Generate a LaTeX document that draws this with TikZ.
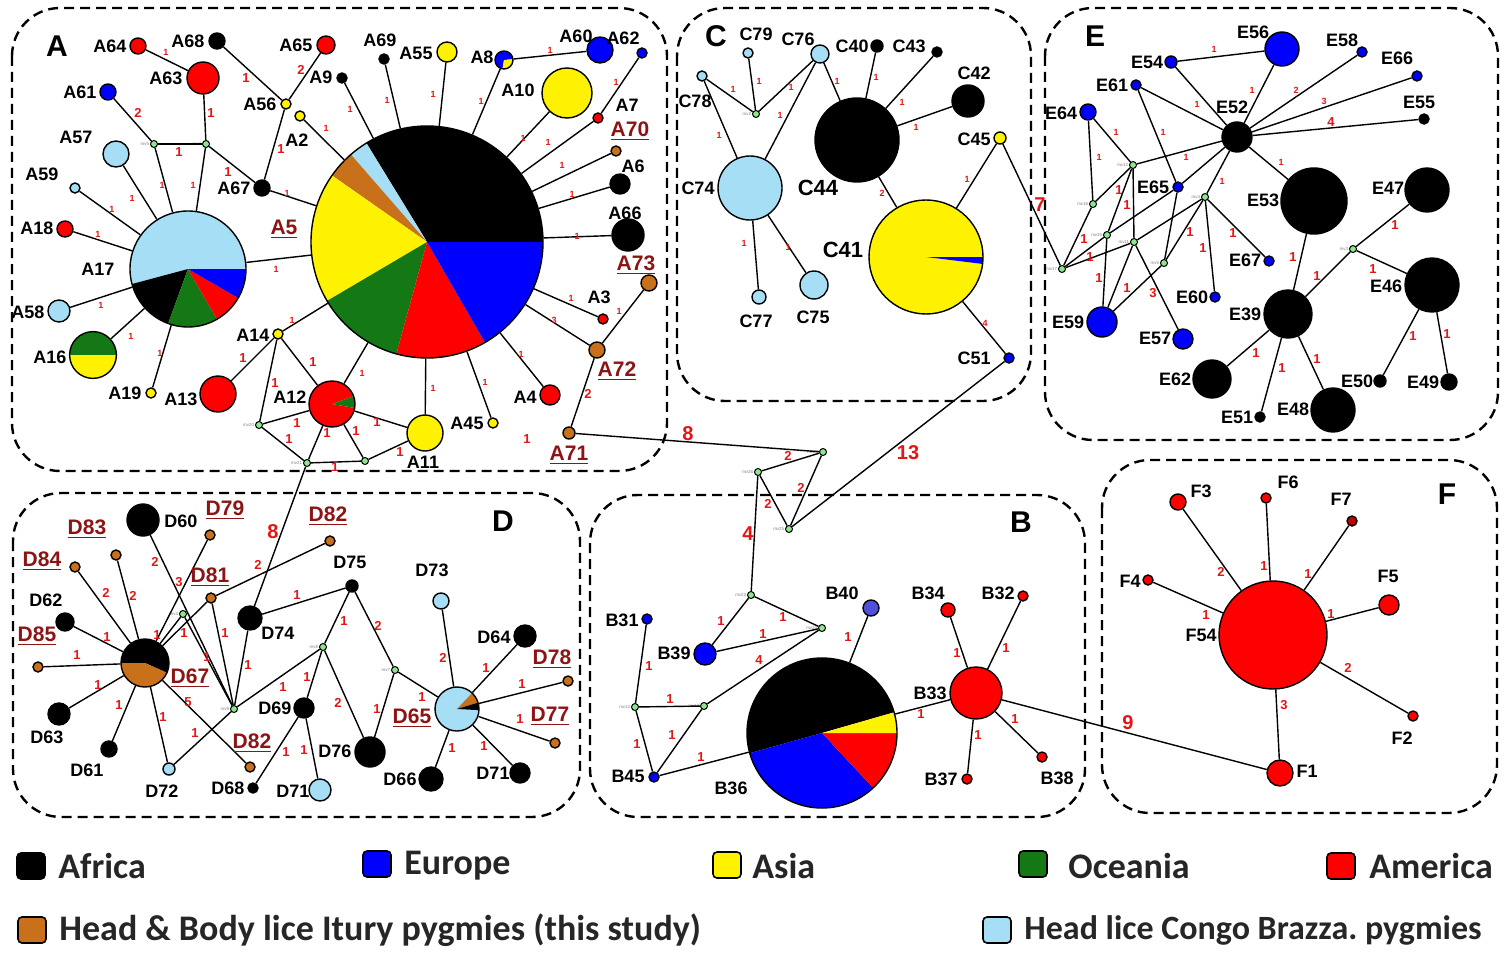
\documentclass[tikz,border=0pt]{standalone}
\usepackage{fontspec}
\setmainfont{Liberation Sans}
\newfontfamily\legfont{Carlito}
\usetikzlibrary{calc}
\definecolor{hgreen}{RGB}{20,120,20}
\definecolor{horange}{RGB}{200,112,26}
\definecolor{hlight}{RGB}{165,222,245}
\definecolor{hslate}{RGB}{80,80,220}
\definecolor{hdark}{RGB}{190,0,0}
\definecolor{mvgreen}{RGB}{140,230,140}
\definecolor{numred}{RGB}{230,20,20}
\definecolor{ulred}{RGB}{140,20,20}
\tikzstyle{hap} = [draw, circle, inner sep=0pt, line width=0.7pt]
\tikzstyle{mv} = [draw, circle, fill=mvgreen, inner sep=0pt, minimum size=3.5pt, line width=0.5pt]
\tikzstyle{mvlab} = [inner sep=0.3pt, text=gray, font=\fontsize{2.2}{2.2}\selectfont]
\tikzstyle{lab} = [inner sep=0pt, font=\fontsize{9}{9}\selectfont\bfseries]
\tikzstyle{biglab} = [inner sep=0pt, font=\fontsize{11}{11}\selectfont\bfseries]
\tikzstyle{ulab} = [inner sep=0pt, text=ulred, font=\fontsize{10.5}{10.5}\selectfont\bfseries]
\tikzstyle{plab} = [inner sep=0pt, font=\fontsize{15}{15}\selectfont\bfseries]
\tikzstyle{num} = [inner sep=0pt, text=numred, font=\fontsize{4.5}{4.5}\selectfont\bfseries]
\tikzstyle{numm} = [inner sep=0pt, text=numred, font=\fontsize{6.5}{6.5}\selectfont\bfseries]
\tikzstyle{numb} = [inner sep=0pt, text=numred, font=\fontsize{10}{10}\selectfont\bfseries]
\tikzstyle{panel} = [draw, line width=1.2pt, dash pattern=on 5pt off 3pt, rounded corners=24pt]
\tikzstyle{link} = [draw, line width=0.7pt]
\tikzstyle{key} = [draw, line width=0.8pt, rounded corners=2pt, minimum width=14pt, minimum height=13pt, inner sep=0pt]
\tikzstyle{legtxt} = [anchor=west, inner sep=0pt, text=black!85, font=\legfont\fontsize{18}{18}\selectfont\bfseries]
% pie slice: centre, radius, start, end, colour
\newcommand{\slice}[5]{\fill[#5] (#1) -- ++(#3:#2) arc[start angle=#3, end angle=#4, radius=#2] -- cycle;}

\begin{document}
\begin{tikzpicture}[x=0.5pt, y=-0.5pt]
	\useasboundingbox (0,0) rectangle (1508,952);
	
	% panels
	\draw[panel] (12,8) rectangle (667,471);
	\draw[panel] (677,8) rectangle (1031,401);
	\draw[panel] (1045,8) rectangle (1498,440);
	\draw[panel] (13,493) rectangle (580,817);
	\draw[panel] (590,495) rectangle (1085,817);
	\draw[panel] (1102,460) rectangle (1497,813);
	\node[plab] (pA) at (57,46) {A};
	\node[plab] (pC) at (716,36) {C};
	\node[plab] (pE) at (1095,36) {E};
	\node[plab] (pD) at (503,521) {D};
	\node[plab] (pB) at (1021,522) {B};
	\node[plab] (pF) at (1447,494) {F};
	
	% ---------------- A
	\coordinate (cA5) at (427,242);
	\slice{cA5}{58pt}{0}{121.5}{black}
	\slice{cA5}{58pt}{121.5}{131}{hlight}
	\slice{cA5}{58pt}{131}{145}{horange}
	\slice{cA5}{58pt}{145}{210.5}{yellow}
	\slice{cA5}{58pt}{210.5}{254.7}{hgreen}
	\slice{cA5}{58pt}{254.7}{300}{red}
	\slice{cA5}{58pt}{300}{360}{blue}
	\node[hap, minimum size=116pt] (A5) at (cA5) {};
	\coordinate (cA17) at (188,269);
	\slice{cA17}{29pt}{0}{195}{hlight}
	\slice{cA17}{29pt}{195}{250}{black}
	\slice{cA17}{29pt}{250}{300}{hgreen}
	\slice{cA17}{29pt}{300}{330}{red}
	\slice{cA17}{29pt}{330}{360}{blue}
	\node[hap, minimum size=58pt] (A17) at (cA17) {};
	\coordinate (cA16) at (93,355);
	\slice{cA16}{11.7pt}{0}{180}{hgreen}
	\slice{cA16}{11.7pt}{180}{360}{yellow}
	\node[hap, minimum size=23.4pt] (A16) at (cA16) {};
	\coordinate (cA12) at (332,404);
	\slice{cA12}{11.5pt}{20}{350}{red}
	\slice{cA12}{11.5pt}{-10}{20}{hgreen}
	\node[hap, minimum size=23pt] (A12) at (cA12) {};
	\coordinate (cA8) at (504,60);
	\slice{cA8}{4.5pt}{5}{260}{blue}
	\slice{cA8}{4.5pt}{-100}{5}{yellow}
	\node[hap, minimum size=9pt] (A8) at (cA8) {};
	
	\node[hap, fill=red, minimum size=8pt] (A64) at (138,46) {};
	\node[hap, fill=black, minimum size=8pt] (A68) at (217,41) {};
	\node[hap, fill=red, minimum size=9pt] (A65) at (326,45) {};
	\node[hap, fill=red, minimum size=16pt] (A63) at (203,78) {};
	\node[hap, fill=blue, minimum size=8pt] (A61) at (108,92) {};
	\node[hap, fill=yellow, minimum size=5pt] (A56) at (286,104) {};
	\node[hap, fill=yellow, minimum size=5pt] (A2) at (300,116) {};
	\node[mv, label={[mvlab]left:mv5}] (mvA1) at (154,144) {};
	\node[mv, label={[mvlab]left:mv4}] (mvA2) at (206,144) {};
	\node[hap, fill=hlight, minimum size=13pt] (A57) at (116,154) {};
	\node[hap, fill=hlight, minimum size=5pt] (A59) at (75,188) {};
	\node[hap, fill=black, minimum size=8pt] (A67) at (262,188) {};
	\node[hap, fill=red, minimum size=8pt] (A18) at (65,229) {};
	\node[hap, fill=hlight, minimum size=11pt] (A58) at (59,311) {};
	\node[hap, fill=yellow, minimum size=5pt] (A19) at (151,393) {};
	\node[hap, fill=red, minimum size=18pt] (A13) at (218,394) {};
	\node[hap, fill=yellow, minimum size=5pt] (A14) at (278,334) {};
	\node[mv, label={[mvlab]left:mv20}] (mv20) at (259,425) {};
	\node[mv, label={[mvlab]left:mv21}] (mv21) at (307,463) {};
	\node[mv] (mvA3) at (365,461) {};
	\node[hap, fill=black, minimum size=5pt] (A69) at (384,59) {};
	\node[hap, fill=black, minimum size=5pt] (A9) at (342,78) {};
	\node[hap, fill=yellow, minimum size=10pt] (A55) at (447,52) {};
	\node[hap, fill=blue, minimum size=13pt] (A60) at (600,50) {};
	\node[hap, fill=blue, minimum size=5pt] (A62) at (642,53) {};
	\node[hap, fill=yellow, minimum size=25pt] (A10) at (567,93) {};
	\node[hap, fill=red, minimum size=5pt] (A7) at (598,118) {};
	\node[hap, fill=horange, minimum size=5pt] (A70) at (616,151) {};
	\node[hap, fill=black, minimum size=10pt] (A6) at (620,184) {};
	\node[hap, fill=black, minimum size=16pt] (A66) at (628,235) {};
	\node[hap, fill=horange, minimum size=8pt] (A73) at (649,283) {};
	\node[hap, fill=horange, minimum size=8pt] (A72) at (597,350) {};
	\node[hap, fill=horange, minimum size=6pt] (A71) at (569,433) {};
	\node[hap, fill=red, minimum size=5pt] (A3) at (603,319) {};
	\node[hap, fill=red, minimum size=10pt] (A4) at (550,395) {};
	\node[hap, fill=yellow, minimum size=5pt] (A45) at (493,423) {};
	\node[hap, fill=yellow, minimum size=18pt] (A11) at (425,433) {};
	
	\draw[link] (A63) -- (A64);
	\draw[link] (A56) -- (A68);
	\draw[link] (A56) -- (A65);
	\draw[link] (A56) -- (A67);
	\draw[link] (mvA2) -- (A67);
	\draw[link] (mvA2) -- (A63);
	\draw[link] (mvA1) -- (mvA2);
	\draw[link] (mvA1) -- (A61);
	\draw[link] (mvA1) -- (A17);
	\draw[link] (mvA2) -- (A17);
	\foreach \n in {A57,A59,A18,A58,A16,A19,A5}
		\draw[link] (A17) -- (\n);
	\foreach \n in {A67,A2,A9,A69,A55,A8,A10,A7,A70,A6,A66,A3,A72,A4,A45,A11,A12,A14}
		\draw[link] (A5) -- (\n);
	\draw[link] (A8) -- (A60);
	\draw[link] (A7) -- (A62);
	\draw[link] (A72) -- (A73);
	\draw[link] (A72) -- (A71);
	\draw[link] (A14) -- (A13);
	\draw[link] (A14) -- (mv20);
	\draw[link] (A14) -- (A12);
	\draw[link] (mv20) -- (A12);
	\draw[link] (mv20) -- (mv21);
	\draw[link] (A12) -- (mv21);
	\draw[link] (A12) -- (A11);
	\draw[link] (A12) -- (mvA3);
	\draw[link] (mv21) -- (mvA3);
	\draw[link] (mvA3) -- (A11);
	
	\node[lab] (tA64) at (110,46) {A64};
	\node[lab] (tA68) at (188,41) {A68};
	\node[lab] (tA65) at (296,45) {A65};
	\node[lab] (tA63) at (166,78) {A63};
	\node[lab] (tA61) at (80,92) {A61};
	\node[lab] (tA56) at (260,104) {A56};
	\node[lab] (tA9) at (321,77) {A9};
	\node[lab] (tA2) at (297,140) {A2};
	\node[lab] (tA57) at (76,137) {A57};
	\node[lab] (tA59) at (42,174) {A59};
	\node[lab] (tA67) at (234,188) {A67};
	\node[lab] (tA18) at (37,228) {A18};
	\node[ulab] (tA5) at (284,229) {\underline{A5}};
	\node[lab] (tA17) at (98,269) {A17};
	\node[lab] (tA58) at (28,312) {A58};
	\node[lab] (tA16) at (50,357) {A16};
	\node[lab] (tA19) at (125,393) {A19};
	\node[lab] (tA13) at (181,399) {A13};
	\node[lab] (tA14) at (253,335) {A14};
	\node[lab] (tA12) at (290,397) {A12};
	\node[lab] (tA69) at (380,40) {A69};
	\node[lab] (tA55) at (416,53) {A55};
	\node[lab] (tA8) at (482,57) {A8};
	\node[lab] (tA60) at (576,36) {A60};
	\node[lab] (tA62) at (623,38) {A62};
	\node[lab] (tA10) at (518,90) {A10};
	\node[lab] (tA7) at (627,105) {A7};
	\node[ulab] (tA70) at (630,131) {\underline{A70}};
	\node[lab] (tA6) at (633,166) {A6};
	\node[lab] (tA66) at (625,213) {A66};
	\node[ulab] (tA73) at (636,265) {\underline{A73}};
	\node[lab] (tA3) at (599,297) {A3};
	\node[ulab] (tA72) at (617,371) {\underline{A72}};
	\node[lab] (tA4) at (525,397) {A4};
	\node[lab] (tA45) at (467,423) {A45};
	\node[lab] (tA11) at (423,462) {A11};
	\node[ulab] (tA71) at (569,455) {\underline{A71}};
	
	\node[num] (nA1) at (166,52) {1};
	\node[numm] (nA2) at (246,78) {1};
	\node[numm] (nA3) at (301,70) {2};
	\node[numm] (nA4) at (138,113) {2};
	\node[numm] (nA5) at (211,113) {1};
	\node[numm] (nA6) at (179,152) {1};
	\node[num] (nA7) at (162,185) {1};
	\node[num] (nA8) at (193,185) {1};
	\node[numm] (nA9) at (228,172) {1};
	\node[numm] (nA10) at (281,149) {1};
	\node[num] (nA11) at (326,128) {1};
	\node[num] (nA12) at (287,193) {1};
	\node[num] (nA13) at (132,198) {1};
	\node[num] (nA14) at (112,209) {1};
	\node[num] (nA15) at (98,234) {1};
	\node[num] (nA16) at (350,109) {1};
	\node[num] (nA17) at (387,100) {1};
	\node[num] (nA18) at (433,94) {1};
	\node[num] (nA19) at (481,101) {1};
	\node[num] (nA20) at (550,50) {1};
	\node[num] (nA21) at (616,82) {1};
	\node[num] (nA22) at (523,138) {1};
	\node[num] (nA23) at (548,142) {1};
	\node[num] (nA24) at (562,165) {1};
	\node[num] (nA25) at (572,194) {1};
	\node[num] (nA26) at (577,236) {1};
	\node[num] (nA27) at (276,269) {1};
	\node[num] (nA28) at (101,305) {1};
	\node[num] (nA29) at (131,336) {1};
	\node[num] (nA30) at (160,353) {1};
	\node[num] (nA31) at (292,320) {1};
	\node[numm] (nA32) at (243,358) {1};
	\node[numm] (nA33) at (275,383) {1};
	\node[numm] (nA34) at (313,362) {1};
	\node[numm] (nA35) at (297,423) {1};
	\node[numm] (nA36) at (289,439) {1};
	\node[numm] (nA37) at (327,433) {1};
	\node[numm] (nA38) at (335,467) {1};
	\node[num] (nA39) at (362,373) {1};
	\node[num] (nA40) at (433,388) {1};
	\node[num] (nA41) at (485,382) {1};
	\node[num] (nA42) at (521,354) {1};
	\node[num] (nA43) at (554,320) {3};
	\node[num] (nA44) at (571,298) {1};
	\node[num] (nA45) at (619,311) {1};
	\node[numm] (nA46) at (588,394) {2};
	\node[numm] (nA47) at (377,422) {1};
	\node[numm] (nA48) at (356,431) {1};
	\node[numm] (nA49) at (400,452) {1};
	\node[numm] (nA50) at (527,439) {1};
	
	% ---------------- C
	\coordinate (cC41) at (926,257);
	\slice{cC41}{28.5pt}{0}{353}{yellow}
	\slice{cC41}{28.5pt}{-7}{0}{blue}
	\node[hap, minimum size=57pt] (C41) at (cC41) {};
	\node[hap, fill=hlight, minimum size=5pt] (C79) at (748,53) {};
	\node[hap, fill=hlight, minimum size=9pt] (C76) at (820,54) {};
	\node[hap, fill=black, minimum size=6pt] (C40) at (877,46) {};
	\node[hap, fill=black, minimum size=5pt] (C43) at (937,52) {};
	\node[hap, fill=hlight, minimum size=5pt] (C78) at (702,76) {};
	\node[mv, label={[mvlab]left:mv2}] (mvC2) at (756,114) {};
	\node[hap, fill=black, minimum size=16pt] (C42) at (968,101) {};
	\node[hap, fill=black, minimum size=42pt] (C44) at (857,140) {};
	\node[hap, fill=yellow, minimum size=6pt] (C45) at (1000,138) {};
	\node[hap, fill=hlight, minimum size=32pt] (C74) at (750,188) {};
	\node[hap, fill=hlight, minimum size=7pt] (C77) at (759,297) {};
	\node[hap, fill=hlight, minimum size=14pt] (C75) at (814,285) {};
	\node[hap, fill=blue, minimum size=5pt] (C51) at (1009,358) {};
	
	\draw[link] (C78) -- (mvC2);
	\draw[link] (C79) -- (mvC2);
	\draw[link] (C76) -- (mvC2);
	\draw[link] (C76) -- (C74);
	\draw[link] (C78) -- (C74);
	\foreach \n in {C76,C40,C43,C42,C41}
		\draw[link] (C44) -- (\n);
	\draw[link] (C45) -- (C41);
	\draw[link] (C41) -- (C51);
	\draw[link] (C74) -- (C77);
	\draw[link] (C74) -- (C75);
	
	\node[lab] (tC79) at (756,34) {C79};
	\node[lab] (tC76) at (798,39) {C76};
	\node[lab] (tC40) at (852,46) {C40};
	\node[lab] (tC43) at (909,46) {C43};
	\node[lab] (tC78) at (695,101) {C78};
	\node[lab] (tC42) at (974,73) {C42};
	\node[biglab] (tC44) at (818,188) {C44};
	\node[lab] (tC45) at (974,139) {C45};
	\node[lab] (tC74) at (698,188) {C74};
	\node[biglab] (tC41) at (843,250) {C41};
	\node[lab] (tC77) at (756,321) {C77};
	\node[lab] (tC75) at (813,317) {C75};
	\node[lab] (tC51) at (974,358) {C51};
	
	\node[num] (nC1) at (733,89) {1};
	\node[num] (nC2) at (759,81) {1};
	\node[num] (nC3) at (791,87) {1};
	\node[num] (nC4) at (780,115) {1};
	\node[num] (nC5) at (719,135) {1};
	\node[num] (nC6) at (837,81) {1};
	\node[num] (nC7) at (876,77) {1};
	\node[num] (nC8) at (902,102) {1};
	\node[num] (nC9) at (916,127) {1};
	\node[num] (nC10) at (882,193) {2};
	\node[num] (nC11) at (967,179) {1};
	\node[num] (nC12) at (985,323) {4};
	\node[num] (nC13) at (744,243) {1};
	\node[num] (nC14) at (788,247) {1};
	
	% ---------------- E
	\node[hap, fill=blue, minimum size=17pt] (E56) at (1282,49) {};
	\node[hap, fill=blue, minimum size=6pt] (E54) at (1171,62) {};
	\node[hap, fill=blue, minimum size=5pt] (E58) at (1362,52) {};
	\node[hap, fill=blue, minimum size=5pt] (E66) at (1417,76) {};
	\node[hap, fill=blue, minimum size=5pt] (E61) at (1136,85) {};
	\node[hap, fill=black, minimum size=5pt] (E55) at (1424,119) {};
	\node[hap, fill=blue, minimum size=8pt] (E64) at (1088,112) {};
	\node[hap, fill=black, minimum size=15pt] (E52) at (1237,137) {};
	\node[mv, label={[mvlab]left:mv12}] (mv12) at (1133,165) {};
	\node[mv, label={[mvlab]left:mv16}] (mv16) at (1093,204) {};
	\node[hap, fill=blue, minimum size=5pt] (E65) at (1178,187) {};
	\node[mv, label={[mvlab]left:mv4}] (mv4) at (1205,197) {};
	\node[hap, fill=black, minimum size=33pt] (E53) at (1314,201) {};
	\node[hap, fill=black, minimum size=22pt] (E47) at (1427,190) {};
	\node[mv, label={[mvlab]left:mv15}] (mv15) at (1107,235) {};
	\node[mv, label={[mvlab]left:mv11}] (mv11) at (1134,242) {};
	\node[mv, label={[mvlab]left:mv17}] (mv17) at (1062,269) {};
	\node[mv, label={[mvlab]left:mv5}] (mv5) at (1164,263) {};
	\node[mv, label={[mvlab]left:mv3}] (mvE3) at (1353,249) {};
	\node[hap, fill=blue, minimum size=5pt] (E67) at (1269,261) {};
	\node[hap, fill=blue, minimum size=5pt] (E60) at (1215,297) {};
	\node[hap, fill=blue, minimum size=15pt] (E59) at (1102,322) {};
	\node[hap, fill=blue, minimum size=10pt] (E57) at (1183,339) {};
	\node[hap, fill=black, minimum size=24pt] (E39) at (1288,314) {};
	\node[hap, fill=black, minimum size=27pt] (E46) at (1432,285) {};
	\node[hap, fill=black, minimum size=19pt] (E62) at (1212,379) {};
	\node[hap, fill=black, minimum size=5pt] (E51) at (1260,417) {};
	\node[hap, fill=black, minimum size=22pt] (E48) at (1333,410) {};
	\node[hap, fill=black, minimum size=6pt] (E50) at (1380,381) {};
	\node[hap, fill=black, minimum size=8pt] (E49) at (1449,382) {};
	
	\draw[link] (E54) -- (E56);
	\foreach \n in {E54,E56,E58,E66,E55,E61,mv12,E65,mv4,E53}
		\draw[link] (E52) -- (\n);
	\draw[link] (E64) -- (mv16);
	\draw[link] (E64) -- (mv12);
	\draw[link] (mv12) -- (mv16);
	\draw[link] (mv12) -- (mv15);
	\draw[link] (mv12) -- (mv11);
	\draw[link] (mv16) -- (mv17);
	\draw[link] (mv17) -- (mv15);
	\draw[link] (mv17) -- (mv11);
	\draw[link] (mv15) -- (E59);
	\draw[link] (mv15) -- (E65);
	\draw[link] (E61) -- (E65);
	\draw[link] (E65) -- (mv5);
	\draw[link] (mv11) -- (E59);
	\draw[link] (mv11) -- (E57);
	\draw[link] (mv11) -- (mv4);
	\draw[link] (mv4) -- (mv5);
	\draw[link] (mv4) -- (E60);
	\draw[link] (mv4) -- (E67);
	\draw[link] (mv5) -- (E59);
	\draw[link] (C45) -- (mv17);
	\draw[link] (E53) -- (E39);
	\draw[link] (E39) -- (mvE3);
	\draw[link] (mvE3) -- (E47);
	\draw[link] (mvE3) -- (E46);
	\foreach \n in {E62,E51,E48}
		\draw[link] (E39) -- (\n);
	\draw[link] (E46) -- (E50);
	\draw[link] (E46) -- (E49);
	
	\node[lab] (tE56) at (1253,32) {E56};
	\node[lab] (tE54) at (1147,62) {E54};
	\node[lab] (tE58) at (1342,40) {E58};
	\node[lab] (tE66) at (1397,58) {E66};
	\node[lab] (tE61) at (1112,85) {E61};
	\node[lab] (tE55) at (1419,102) {E55};
	\node[lab] (tE64) at (1061,113) {E64};
	\node[lab] (tE52) at (1232,107) {E52};
	\node[lab] (tE65) at (1153,187) {E65};
	\node[lab] (tE53) at (1263,200) {E53};
	\node[lab] (tE47) at (1388,188) {E47};
	\node[lab] (tE67) at (1245,260) {E67};
	\node[lab] (tE60) at (1192,297) {E60};
	\node[lab] (tE59) at (1068,322) {E59};
	\node[lab] (tE57) at (1155,338) {E57};
	\node[lab] (tE39) at (1245,314) {E39};
	\node[lab] (tE46) at (1386,286) {E46};
	\node[lab] (tE62) at (1175,379) {E62};
	\node[lab] (tE51) at (1237,417) {E51};
	\node[lab] (tE48) at (1293,409) {E48};
	\node[lab] (tE50) at (1357,381) {E50};
	\node[lab] (tE49) at (1423,382) {E49};
	
	\node[num] (nE1) at (1214,49) {1};
	\node[num] (nE2) at (1197,104) {1};
	\node[num] (nE3) at (1252,90) {1};
	\node[num] (nE4) at (1296,90) {2};
	\node[num] (nE5) at (1324,101) {3};
	\node[numm] (nE6) at (1331,122) {4};
	\node[num] (nE7) at (1163,132) {1};
	\node[num] (nE8) at (1186,157) {1};
	\node[num] (nE9) at (1116,132) {1};
	\node[num] (nE10) at (1099,157) {1};
	\node[num] (nE11) at (1222,181) {1};
	\node[num] (nE12) at (1281,162) {1};
	\node[numm] (nE13) at (1119,190) {1};
	\node[numm] (nE14) at (1127,205) {1};
	\node[numm] (nE15) at (1084,239) {1};
	\node[numm] (nE16) at (1090,257) {1};
	\node[numm] (nE17) at (1099,278) {1};
	\node[numm] (nE18) at (1127,288) {1};
	\node[numm] (nE19) at (1153,293) {3};
	\node[numm] (nE20) at (1203,248) {1};
	\node[numm] (nE21) at (1233,233) {1};
	\node[numm] (nE22) at (1190,232) {1};
	\node[numb] (nE23) at (1040,205) {7};
	\node[numm] (nE24) at (1293,257) {1};
	\node[numm] (nE25) at (1317,276) {1};
	\node[numm] (nE26) at (1395,225) {1};
	\node[numm] (nE27) at (1373,269) {1};
	\node[numm] (nE28) at (1256,353) {1};
	\node[numm] (nE29) at (1282,368) {1};
	\node[numm] (nE30) at (1317,359) {1};
	\node[numm] (nE31) at (1413,336) {1};
	\node[numm] (nE32) at (1447,334) {1};
	
	% ---------------- D
	\coordinate (cD67) at (145,663);
	\slice{cD67}{12pt}{-24}{180}{black}
	\slice{cD67}{12pt}{180}{336}{horange}
	\node[hap, minimum size=24pt] (D67) at (cD67) {};
	\coordinate (cD65) at (457,709);
	\slice{cD65}{11pt}{47}{357}{hlight}
	\slice{cD65}{11pt}{17}{47}{horange}
	\slice{cD65}{11pt}{-3}{17}{black}
	\node[hap, minimum size=22pt] (D65) at (cD65) {};
	\node[hap, fill=black, minimum size=16pt] (D60) at (143,520) {};
	\node[hap, fill=horange, minimum size=5pt] (D79) at (210,535) {};
	\node[hap, fill=horange, minimum size=5pt] (D83) at (116,555) {};
	\node[hap, fill=horange, minimum size=5pt] (D84) at (75,567) {};
	\node[hap, fill=black, minimum size=9pt] (D62) at (65,622) {};
	\node[hap, fill=horange, minimum size=5pt] (D81) at (211,598) {};
	\node[mv, label={[mvlab]left:mv3}] (mvD3) at (183,614) {};
	\node[hap, fill=horange, minimum size=5pt] (D85) at (38,667) {};
	\node[hap, fill=black, minimum size=12pt] (D74) at (250,618) {};
	\node[mv, label={[mvlab]left:mv9}] (mvD9) at (234,709) {};
	\node[hap, fill=black, minimum size=11pt] (D63) at (59,714) {};
	\node[hap, fill=black, minimum size=8pt] (D61) at (109,749) {};
	\node[hap, fill=hlight, minimum size=6pt] (D72) at (169,769) {};
	\node[hap, fill=horange, minimum size=5pt] (D82b) at (250,767) {};
	\node[hap, fill=black, minimum size=5pt] (D68) at (253,788) {};
	\node[hap, fill=black, minimum size=10pt] (D69) at (304,708) {};
	\node[hap, fill=hlight, minimum size=11pt] (D71a) at (320,790) {};
	\node[hap, fill=horange, minimum size=5pt] (D82a) at (330,541) {};
	\node[hap, fill=black, minimum size=6pt] (D75) at (352,586) {};
	\node[mv, label={[mvlab]left:mv8}] (mvD8) at (323,647) {};
	\node[mv, label={[mvlab]left:mv7}] (mvD7) at (395,670) {};
	\node[hap, fill=hlight, minimum size=8pt] (D73) at (441,601) {};
	\node[hap, fill=black, minimum size=11pt] (D64) at (525,636) {};
	\node[hap, fill=horange, minimum size=5pt] (D78) at (568,681) {};
	\node[hap, fill=horange, minimum size=5pt] (D77) at (555,743) {};
	\node[hap, fill=black, minimum size=15pt] (D76) at (370,752) {};
	\node[hap, fill=black, minimum size=12pt] (D66) at (431,779) {};
	\node[hap, fill=black, minimum size=10pt] (D71b) at (520,773) {};
	
	\foreach \n in {D84,D83,D62,D85,D63,D61,D72,D82b,D79,mvD3,D81}
		\draw[link] (D67) -- (\n);
	\foreach \n in {D60,mvD3,D81,D74,D72,mvD8}
		\draw[link] (mvD9) -- (\n);
	\draw[link] (D81) -- (D82a);
	\draw[link] (mv21) -- (D74);
	\draw[link] (D74) -- (D75);
	\draw[link] (D69) -- (mvD8);
	\draw[link] (D69) -- (D71a);
	\draw[link] (D69) -- (D68);
	\draw[link] (mvD8) -- (D75);
	\draw[link] (mvD8) -- (D76);
	\draw[link] (D75) -- (mvD7);
	\draw[link] (mvD7) -- (D76);
	\foreach \n in {mvD7,D73,D64,D78,D77,D71b,D66}
		\draw[link] (D65) -- (\n);
	
	\node[lab] (tD60) at (181,521) {D60};
	\node[ulab] (tD79) at (225,510) {\underline{D79}};
	\node[ulab] (tD83) at (87,529) {\underline{D83}};
	\node[ulab] (tD84) at (42,561) {\underline{D84}};
	\node[lab] (tD62) at (46,600) {D62};
	\node[ulab] (tD81) at (210,577) {\underline{D81}};
	\node[ulab] (tD85) at (37,636) {\underline{D85}};
	\node[ulab] (tD67) at (190,678) {\underline{D67}};
	\node[lab] (tD74) at (278,633) {D74};
	\node[lab] (tD63) at (47,737) {D63};
	\node[lab] (tD61) at (87,770) {D61};
	\node[lab] (tD72) at (162,791) {D72};
	\node[ulab] (tD82b) at (252,743) {\underline{D82}};
	\node[lab] (tD68) at (228,788) {D68};
	\node[lab] (tD69) at (275,708) {D69};
	\node[lab] (tD71a) at (293,791) {D71};
	\node[ulab] (tD82a) at (328,516) {\underline{D82}};
	\node[lab] (tD75) at (350,562) {D75};
	\node[lab] (tD73) at (432,570) {D73};
	\node[lab] (tD64) at (494,637) {D64};
	\node[ulab] (tD78) at (552,659) {\underline{D78}};
	\node[ulab] (tD65) at (412,718) {\underline{D65}};
	\node[ulab] (tD77) at (550,716) {\underline{D77}};
	\node[lab] (tD76) at (335,751) {D76};
	\node[lab] (tD66) at (400,779) {D66};
	\node[lab] (tD71b) at (493,773) {D71};
	
	\node[numm] (nD1) at (106,593) {2};
	\node[numm] (nD2) at (133,596) {2};
	\node[numm] (nD3) at (107,637) {1};
	\node[numm] (nD4) at (77,655) {1};
	\node[numm] (nD5) at (98,685) {1};
	\node[numm] (nD6) at (119,705) {1};
	\node[numm] (nD7) at (163,717) {1};
	\node[numm] (nD8) at (188,702) {5};
	\node[numm] (nD9) at (179,582) {3};
	\node[numm] (nD10) at (157,635) {1};
	\node[numm] (nD11) at (184,633) {1};
	\node[numm] (nD12) at (155,562) {2};
	\node[numm] (nD13) at (207,657) {1};
	\node[numm] (nD14) at (225,633) {1};
	\node[numm] (nD15) at (248,665) {1};
	\node[numm] (nD16) at (195,733) {1};
	\node[numm] (nD17) at (283,687) {1};
	\node[numm] (nD18) at (258,565) {2};
	\node[numb] (nD19) at (273,532) {8};
	\node[numm] (nD20) at (297,595) {1};
	\node[numm] (nD21) at (304,750) {1};
	\node[numm] (nD22) at (307,677) {1};
	\node[numm] (nD23) at (286,752) {1};
	\node[numm] (nD24) at (344,621) {1};
	\node[numm] (nD25) at (338,703) {2};
	\node[numm] (nD26) at (378,626) {2};
	\node[numm] (nD27) at (377,709) {1};
	\node[numm] (nD28) at (422,697) {1};
	\node[numm] (nD29) at (443,658) {2};
	\node[numm] (nD30) at (486,668) {1};
	\node[numm] (nD31) at (522,684) {1};
	\node[numm] (nD32) at (520,719) {1};
	\node[numm] (nD33) at (484,746) {1};
	\node[numm] (nD34) at (452,748) {1};
	
	% ---------------- B
	\coordinate (cB36) at (822,733);
	\slice{cB36}{37.5pt}{16}{195.6}{black}
	\slice{cB36}{37.5pt}{195.6}{313}{blue}
	\slice{cB36}{37.5pt}{313}{360}{red}
	\slice{cB36}{37.5pt}{0}{16}{yellow}
	\node[hap, minimum size=75pt] (B36) at (cB36) {};
	\node[mv, label={[mvlab]left:mv28}] (mv28) at (823,452) {};
	\node[mv, label={[mvlab]left:mv26}] (mv26) at (758,472) {};
	\node[mv, label={[mvlab]left:mv25}] (mv25) at (789,529) {};
	\node[mv, label={[mvlab]left:mv23}] (mv23) at (751,595) {};
	\node[mv, label={[mvlab]left:mv24}] (mv24) at (822,628) {};
	\node[mv, label={[mvlab]left:mv13}] (mv13) at (635,707) {};
	\node[mv, label={[mvlab]left:mv14}] (mv14) at (704,706) {};
	\node[hap, fill=blue, minimum size=5pt] (B31) at (647,619) {};
	\node[hap, fill=blue, minimum size=11pt] (B39) at (705,654) {};
	\node[hap, fill=hslate, minimum size=8pt] (B40) at (871,608) {};
	\node[hap, fill=blue, minimum size=5pt] (B45) at (654,777) {};
	\node[hap, fill=red, minimum size=7pt] (B34) at (948,610) {};
	\node[hap, fill=red, minimum size=5pt] (B32) at (1023,596) {};
	\node[hap, fill=red, minimum size=26pt] (B33) at (976,693) {};
	\node[hap, fill=red, minimum size=5pt] (B37) at (967,779) {};
	\node[hap, fill=red, minimum size=5pt] (B38) at (1042,757) {};
	
	\draw[link] (A71) -- (mv28);
	\draw[link] (mv28) -- (mv26);
	\draw[link] (mv28) -- (mv25);
	\draw[link] (mv26) -- (mv25);
	\draw[link] (C51) -- (mv25);
	\draw[link] (mv26) -- (mv23);
	\draw[link] (mv23) -- (B39);
	\draw[link] (mv23) -- (mv24);
	\draw[link] (mv24) -- (B39);
	\draw[link] (mv24) -- (mv14);
	\draw[link] (B31) -- (mv13);
	\draw[link] (mv13) -- (mv14);
	\draw[link] (mv13) -- (B45);
	\draw[link] (mv14) -- (B45);
	\draw[link] (B45) -- (B36);
	\draw[link] (B40) -- (B36);
	\draw[link] (B36) -- (B33);
	\foreach \n in {B34,B32,B37,B38}
		\draw[link] (B33) -- (\n);
	
	\node[lab] (tB31) at (622,620) {B31};
	\node[lab] (tB39) at (674,653) {B39};
	\node[lab] (tB40) at (842,593) {B40};
	\node[lab] (tB45) at (628,776) {B45};
	\node[lab] (tB36) at (731,788) {B36};
	\node[lab] (tB34) at (928,593) {B34};
	\node[lab] (tB32) at (998,593) {B32};
	\node[lab] (tB33) at (930,693) {B33};
	\node[lab] (tB37) at (941,779) {B37};
	\node[lab] (tB38) at (1057,778) {B38};
	
	\node[numb] (nB1) at (688,434) {8};
	\node[numm] (nB2) at (788,456) {2};
	\node[numm] (nB3) at (801,488) {2};
	\node[numm] (nB4) at (768,504) {2};
	\node[numb] (nB5) at (908,453) {13};
	\node[numb] (nB6) at (748,534) {4};
	\node[numm] (nB7) at (721,621) {1};
	\node[numm] (nB8) at (783,617) {1};
	\node[numm] (nB9) at (763,634) {1};
	\node[numm] (nB10) at (759,660) {4};
	\node[numm] (nB11) at (649,666) {1};
	\node[numm] (nB12) at (670,699) {1};
	\node[numm] (nB13) at (637,744) {1};
	\node[numm] (nB14) at (672,735) {1};
	\node[numm] (nB15) at (701,757) {1};
	\node[numm] (nB16) at (848,637) {1};
	\node[numm] (nB17) at (921,714) {1};
	\node[numm] (nB18) at (957,653) {1};
	\node[numm] (nB19) at (1006,648) {1};
	\node[numm] (nB20) at (978,735) {1};
	\node[numm] (nB21) at (1015,719) {1};
	
	% ---------------- F
	\node[hap, fill=red, minimum size=54pt] (F54) at (1273,635) {};
	\node[hap, fill=red, minimum size=8pt] (F3) at (1178,502) {};
	\node[hap, fill=red, minimum size=5pt] (F6) at (1266,498) {};
	\node[hap, fill=hdark, minimum size=5pt] (F7) at (1352,521) {};
	\node[hap, fill=red, minimum size=5pt] (F4) at (1148,580) {};
	\node[hap, fill=red, minimum size=10pt] (F5) at (1389,605) {};
	\node[hap, fill=red, minimum size=5pt] (F2) at (1413,716) {};
	\node[hap, fill=red, minimum size=13pt] (F1) at (1280,773) {};
	\foreach \n in {F3,F6,F7,F4,F5,F2,F1}
		\draw[link] (F54) -- (\n);
	\draw[link] (B33) -- (F1);
	
	\node[lab] (tF3) at (1201,491) {F3};
	\node[lab] (tF6) at (1288,482) {F6};
	\node[lab] (tF7) at (1341,499) {F7};
	\node[lab] (tF4) at (1130,581) {F4};
	\node[lab] (tF5) at (1388,576) {F5};
	\node[lab] (tF54) at (1201,635) {F54};
	\node[lab] (tF2) at (1402,738) {F2};
	\node[lab] (tF1) at (1307,771) {F1};
	
	\node[numm] (nF1) at (1221,572) {2};
	\node[numm] (nF2) at (1264,566) {1};
	\node[numm] (nF3) at (1308,574) {1};
	\node[numm] (nF4) at (1206,615) {1};
	\node[numm] (nF5) at (1331,614) {1};
	\node[numm] (nF6) at (1348,668) {2};
	\node[numm] (nF7) at (1284,705) {3};
	\node[numb] (nF8) at (1128,723) {9};
	
	% ---------------- legend
	\node[key, fill=black] (kAf) at (31,866) {};
	\node[legtxt] (lAf) at (58,866) {Africa};
	\node[key, fill=blue] (kEu) at (377,864) {};
	\node[legtxt] (lEu) at (404,866) {Europe};
	\node[key, fill=yellow] (kAs) at (727,865) {};
	\node[legtxt] (lAs) at (752,866) {Asia};
	\node[key, fill=hgreen] (kOc) at (1033,864) {};
	\node[legtxt] (lOc) at (1068,866) {Oceania};
	\node[key, fill=red] (kAm) at (1341,866) {};
	\node[legtxt] (lAm) at (1369,866) {America};
	\node[key, fill=horange] (kIt) at (32,930) {};
	\node[legtxt] (lIt) at (59,930) {Head \& Body lice Itury pygmies (this study)};
	\node[key, fill=hlight] (kCo) at (997,930) {};
	\node[legtxt, font=\legfont\fontsize{17}{17}\selectfont\bfseries] (lCo) at (1024,930) {Head lice Congo Brazza.~pygmies};
\end{tikzpicture}
\end{document}
